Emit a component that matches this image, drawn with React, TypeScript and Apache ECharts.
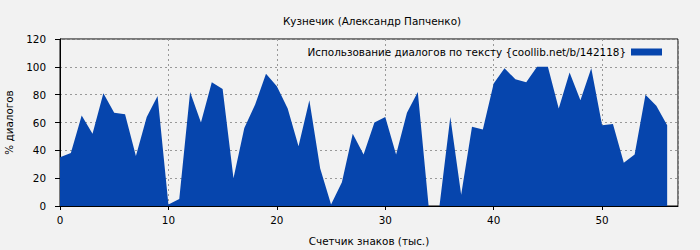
import React, { useEffect, useRef } from "react";
import * as echarts from "echarts";

const titleText = "Кузнечик (Александр Папченко)";
const seriesName = "Использование диалогов по тексту {coollib.net/b/142118}";
const xAxisName = "Счетчик знаков (тыс.)";
const yAxisName = "% диалогов";

const xValues = [
  0, 1, 2, 3, 4, 5, 6, 7, 8, 9, 10, 11, 12, 13, 14, 15, 16, 17, 18, 19,
  20, 21, 22, 23, 24, 25, 26, 27, 28, 29, 30, 31, 32, 33, 34, 35, 36, 37, 38, 39,
  40, 41, 42, 43, 44, 45, 46, 47, 48, 49, 50, 51, 52, 53, 54, 55, 56,
];
const dialogPct = [
  35, 38, 65, 52, 81, 67, 66, 36, 64, 79, 1, 5, 82, 60, 89, 84, 20, 56, 73, 95,
  86, 70, 43, 76, 27, 1, 17, 52, 37, 60, 64, 37, 67, 82, 0, 0, 64, 8, 57, 55,
  88, 99, 91, 89, 100, 100, 70, 96, 76, 99, 58, 59, 31, 37, 80, 72, 58,
];

const FONT = "DejaVu Sans";
const FS = 10.4;

export default function App() {
  const ref = useRef<HTMLDivElement>(null);
  useEffect(() => {
    if (!ref.current) return;
    const chart = echarts.init(ref.current, undefined, { renderer: "svg" });
    const data = xValues.map((x, i) => [x, dialogPct[i]]);
    chart.setOption({
      animation: false,
      backgroundColor: "#f2f2f2",
      textStyle: { fontFamily: FONT, color: "#000" },
      title: {
        text: titleText,
        left: 367,
        top: 11,
        textAlign: "center",
        textStyle: { fontFamily: FONT, fontSize: FS, fontWeight: "normal", color: "#000" },
      },
      legend: {
        right: 33,
        top: 42,
        align: "right",
        itemWidth: 31,
        itemHeight: 7,
        itemGap: 10,
        icon: "rect",
        textStyle: { fontFamily: FONT, fontSize: FS, color: "#000" },
        data: [seriesName],
      },
      grid: {
        left: 60,
        right: 22,
        top: 39,
        bottom: 44,
        outerBoundsMode: "none",
        containLabel: false,
        show: true,
        backgroundColor: "transparent",
        borderColor: "#000",
        borderWidth: 1,
      },
      xAxis: {
        type: "value",
        min: 0,
        max: 57,
        interval: 10,
        name: xAxisName,
        nameLocation: "middle",
        nameGap: 30,
        nameTextStyle: { fontFamily: FONT, fontSize: FS, color: "#000" },
        axisLine: { show: true, lineStyle: { color: "#000" } },
        axisTick: { show: true, length: 4, lineStyle: { color: "#000" } },
        axisLabel: {
          fontFamily: FONT,
          fontSize: FS,
          color: "#000",
          margin: 9,
          showMaxLabel: false,
        },
        splitLine: { show: true, lineStyle: { color: "#999", type: [2, 3] } },
      },
      yAxis: {
        type: "value",
        min: 0,
        max: 120,
        interval: 20,
        name: yAxisName,
        nameLocation: "middle",
        nameGap: 46,
        nameRotate: 90,
        nameTextStyle: { fontFamily: FONT, fontSize: FS, color: "#000" },
        axisLine: { show: true, lineStyle: { color: "#000" } },
        axisTick: { show: true, length: 5, lineStyle: { color: "#000" } },
        axisLabel: { fontFamily: FONT, fontSize: FS, color: "#000", margin: 14 },
        splitLine: { show: true, lineStyle: { color: "#999", type: [2, 3] } },
      },
      series: [
        {
          name: seriesName,
          type: "line",
          data,
          symbol: "none",
          color: "#0645ad",
          lineStyle: { width: 0 },
          areaStyle: { color: "#0645ad", opacity: 1 },
        },
      ],
    });
    return () => chart.dispose();
  }, []);
  return (
    <div
      ref={ref}
      style={{ position: "fixed", left: 0, top: 0, width: 700, height: 250 }}
    />
  );
}
